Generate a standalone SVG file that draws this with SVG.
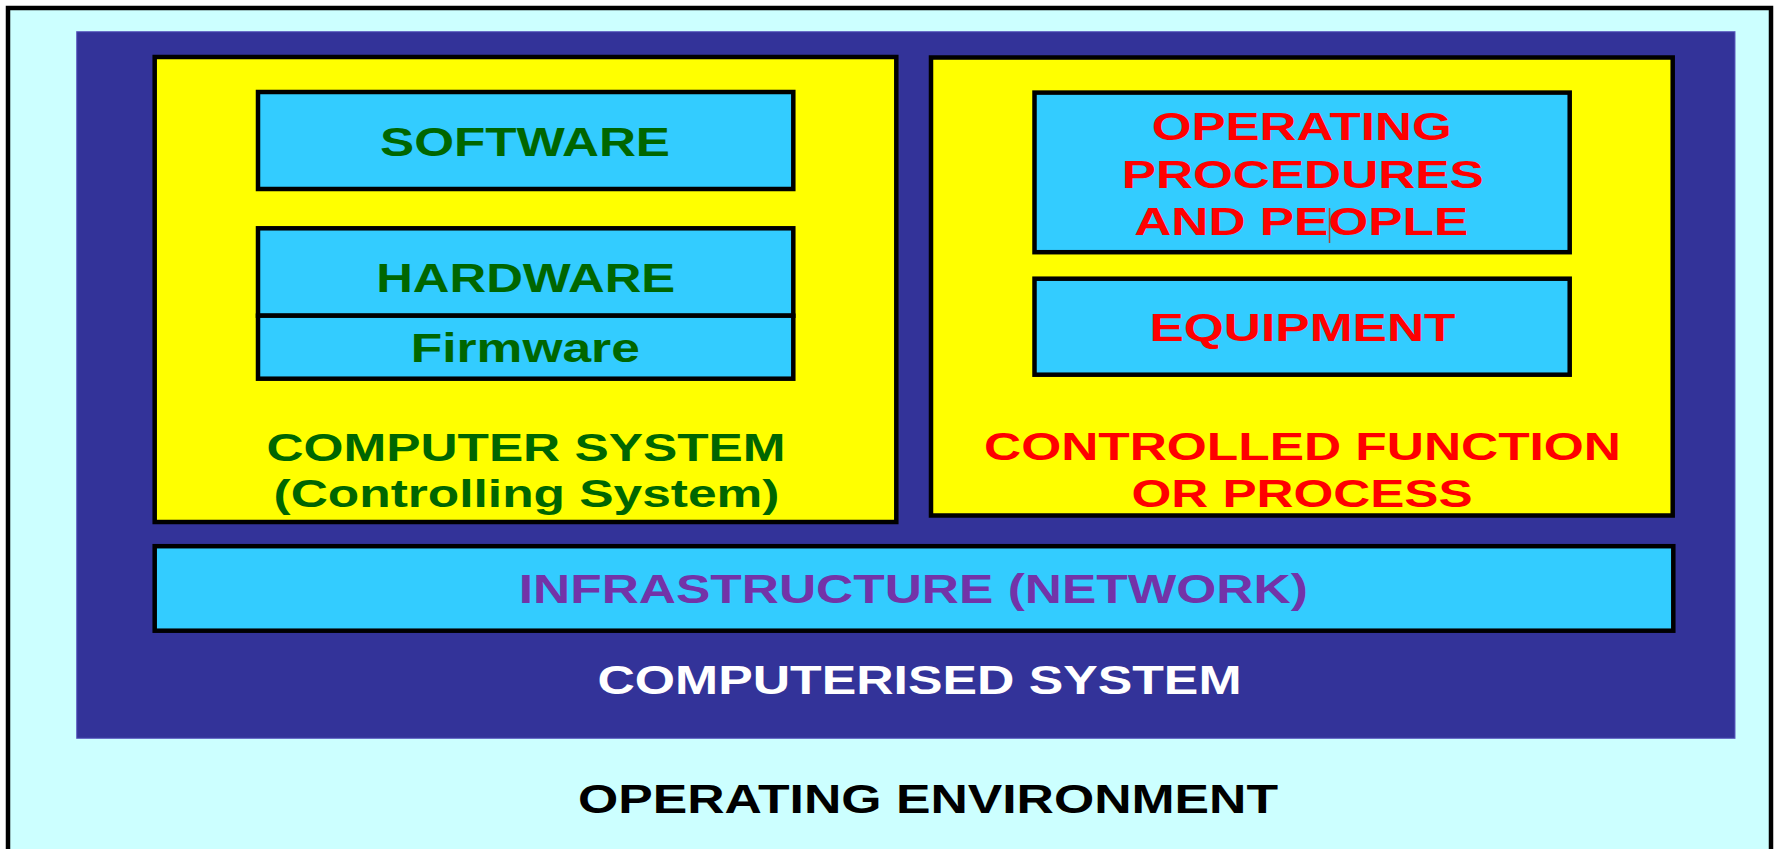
<svg xmlns="http://www.w3.org/2000/svg" width="1779" height="849" viewBox="0 0 1779 849">
  <style>
    text { font-family: "Liberation Sans", Arial, sans-serif; font-weight: bold; text-anchor: middle; lengthAdjust: spacingAndGlyphs; }
    .frame { stroke: #000000; stroke-width: 4.5; }
    .env { fill: #CCFFFF; }
    .sys { fill: #333399; stroke: #5c5cc0; stroke-width: 1; }
    .group { fill: #FFFF00; }
    .part { fill: #33CCFF; }
    .green { fill: #006600; }
    .red { fill: #FF0000; }
    .purple { fill: #7333A8; }
    .white { fill: #FFFFFF; }
    .black { fill: #000000; }
  </style>

  <rect x="0" y="0" width="1779" height="849" fill="#FFFFFF"/>

  <!-- operating environment -->
  <g id="operating-environment">
    <rect class="env frame" x="8" y="8" width="1763" height="860"/>
    <text class="black" x="928" y="812.7" font-size="40" textLength="700" lengthAdjust="spacingAndGlyphs">OPERATING ENVIRONMENT</text>
  </g>

  <!-- computerised system -->
  <g id="computerised-system">
    <rect class="sys" x="76.7" y="31.7" width="1658.3" height="706.6"/>
    <text class="white" x="919.5" y="694" font-size="40" textLength="644" lengthAdjust="spacingAndGlyphs">COMPUTERISED SYSTEM</text>
  </g>

  <!-- computer system (controlling system) -->
  <g id="computer-system">
    <rect class="group frame" x="154.7" y="57" width="741.6" height="465"/>
    <text class="green" x="526" y="460.7" font-size="39" textLength="519" lengthAdjust="spacingAndGlyphs">COMPUTER SYSTEM</text>
    <text class="green" x="526.5" y="507.3" font-size="39" textLength="506" lengthAdjust="spacingAndGlyphs">(Controlling System)</text>
  </g>

  <g id="software">
    <rect class="part frame" x="258" y="92" width="535.3" height="97"/>
    <text class="green" x="525" y="156" font-size="40" textLength="290" lengthAdjust="spacingAndGlyphs">SOFTWARE</text>
  </g>

  <g id="hardware">
    <rect class="part frame" x="258" y="228.3" width="535.3" height="87.4"/>
    <text class="green" x="525.7" y="291.7" font-size="40" textLength="299" lengthAdjust="spacingAndGlyphs">HARDWARE</text>
  </g>

  <g id="firmware">
    <rect class="part frame" x="258" y="315.7" width="535.3" height="63"/>
    <text class="green" x="525.3" y="361.5" font-size="40" textLength="229" lengthAdjust="spacingAndGlyphs">Firmware</text>
  </g>

  <!-- controlled function or process -->
  <g id="controlled-function">
    <rect class="group frame" x="931" y="57.5" width="741.7" height="458"/>
    <text class="red" x="1302.5" y="460" font-size="39" textLength="637" lengthAdjust="spacingAndGlyphs">CONTROLLED FUNCTION</text>
    <text class="red" x="1302" y="507.3" font-size="39" textLength="341" lengthAdjust="spacingAndGlyphs">OR PROCESS</text>
  </g>

  <g id="operating-procedures">
    <rect class="part frame" x="1034.5" y="92.6" width="535.2" height="159.6"/>
    <text class="red" x="1301.7" y="140" font-size="38" textLength="300" lengthAdjust="spacingAndGlyphs">OPERATING</text>
    <text class="red" x="1302.7" y="187.7" font-size="38" textLength="362" lengthAdjust="spacingAndGlyphs">PROCEDURES</text>
    <text class="red" x="1301.2" y="235" font-size="38" textLength="334" lengthAdjust="spacingAndGlyphs">AND PEOPLE</text>
    <line x1="1329.5" y1="208" x2="1329.5" y2="243" stroke="#b5402a" stroke-width="1.5"/>
  </g>

  <g id="equipment">
    <rect class="part frame" x="1034.5" y="278.7" width="535.2" height="96"/>
    <text class="red" x="1302.5" y="341" font-size="38" textLength="306" lengthAdjust="spacingAndGlyphs">EQUIPMENT</text>
  </g>

  <!-- infrastructure -->
  <g id="infrastructure">
    <rect class="part frame" x="154.7" y="546.2" width="1518.6" height="84.5"/>
    <text class="purple" x="913.3" y="603.3" font-size="40" textLength="789" lengthAdjust="spacingAndGlyphs">INFRASTRUCTURE (NETWORK)</text>
  </g>

  <!-- no connectors: the parts are nested, not linked -->
  <g id="connectors"/>
</svg>
